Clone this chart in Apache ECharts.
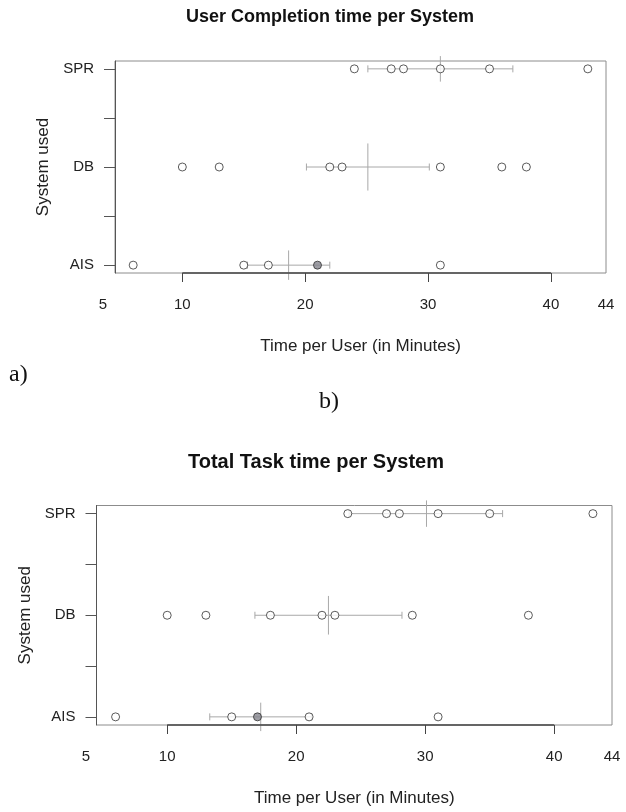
<!DOCTYPE html>
<html>
<head>
<meta charset="utf-8">
<script src="https://cdn.jsdelivr.net/npm/echarts@6/dist/echarts.min.js"></script>
<style>
  html, body { margin: 0; padding: 0; background: #fff; }
  #main { width: 626px; height: 812px; }
</style>
</head>
<body>
<div id="main"></div>
<script>
// systems on the y axis (bottom to top)
var systems = ['AIS', 'DB', 'SPR'];

// a) user completion time per system, one array per system
var userAIS = [6, 15, 17, 21, 21, 31];
var userDB = [10, 13, 22, 23, 31, 36, 38];
var userSPR = [24, 27, 28, 31, 35, 43];
var userMean = [18.65, 25.1, 31.0];
var userLow = [15.3, 20.1, 25.1];
var userHigh = [22.0, 30.1, 36.9];
var userMeanHalf = [0.15, 0.24, 0.13];

// b) total task time per system
var taskAIS = [6, 15, 17, 17, 21, 31];
var taskDB = [10, 13, 18, 22, 23, 29, 38];
var taskSPR = [24, 27, 28, 31, 35, 43];
var taskMean = [17.25, 22.5, 30.1];
var taskLow = [13.3, 16.8, 24.1];
var taskHigh = [21.2, 28.2, 36.0];
var taskMeanHalf = [0.14, 0.19, 0.13];

// axes
var xMin = 4.52, xMax = 44.48;
var xTicks = [10, 20, 30, 40];
var xEdgeLabels = ['5', '44'];
var yMin = 0.92, yMax = 3.08;
var yTicks = [1, 1.5, 2, 2.5, 3];

var sans = 'Liberation Sans, Arial, sans-serif';
var serif = 'Liberation Serif, Times New Roman, serif';

function pointData(groups) {
	var out = [];
	groups.forEach(function(vals, i) {
		var seen = {};
		vals.forEach(function(v) {
			seen[v] = (seen[v] || 0) + 1;
		});
		Object.keys(seen).forEach(function(k) {
			out.push({
				value : [ Number(k), i + 1 ],
				itemStyle : { color : seen[k] > 1 ? '#85858d' : '#fff' }
			});
		});
	});
	return out;
}

function barData(mean, low, high, half) {
	return mean.map(function(m, i) {
		return [ i + 1, m, low[i], high[i], half[i] ];
	});
}

function renderBar(params, api) {
	var y = api.value(0), m = api.value(1), lo = api.value(2), hi = api.value(3), h = api.value(4);
	var pL = api.coord([ lo, y ]), pR = api.coord([ hi, y ]);
	var pT = api.coord([ m, y + h ]), pB = api.coord([ m, y - h ]);
	var cap = 3.5;
	var st = { stroke : '#a8a8a8', lineWidth : 1 };
	return {
		type : 'group',
		children : [
			{ type : 'line', shape : { x1 : pL[0], y1 : pL[1], x2 : pR[0], y2 : pR[1] }, style : st },
			{ type : 'line', shape : { x1 : pL[0], y1 : pL[1] - cap, x2 : pL[0], y2 : pL[1] + cap }, style : st },
			{ type : 'line', shape : { x1 : pR[0], y1 : pR[1] - cap, x2 : pR[0], y2 : pR[1] + cap }, style : st },
			{ type : 'line', shape : { x1 : pT[0], y1 : pT[1], x2 : pB[0], y2 : pB[1] }, style : st }
		]
	};
}

function makeX(idx, shiftLeft) {
	return {
		type : 'value',
		gridIndex : idx,
		min : xMin,
		max : xMax,
		axisLine : { show : false },
		splitLine : { show : false },
		axisTick : {
			show : true,
			customValues : xTicks,
			length : 9,
			lineStyle : { color : '#444' }
		},
		axisLabel : {
			customValues : [ xMin ].concat(xTicks, [ xMax ]),
			margin : 24,
			fontSize : 15,
			fontFamily : sans,
			color : '#222',
			formatter : function(v) {
				if (v === xMin) return '{lo|' + xEdgeLabels[0] + '}';
				if (v === xMax) return '{hi|' + xEdgeLabels[1] + '}';
				return String(v);
			},
			rich : {
				lo : { fontSize : 15, fontFamily : sans, color : '#222', padding : [ 0, shiftLeft, 0, 0 ] },
				hi : { fontSize : 15, fontFamily : sans, color : '#222' }
			}
		},
		name : 'Time per User (in Minutes)',
		nameLocation : 'middle',
		nameGap : 65,
		nameTextStyle : { fontSize : 17, fontFamily : sans, color : '#222' }
	};
}

function makeY(idx) {
	return {
		type : 'value',
		gridIndex : idx,
		min : yMin,
		max : yMax,
		axisLine : { show : true, lineStyle : { color : '#555' } },
		splitLine : { show : false },
		axisTick : {
			show : true,
			customValues : yTicks,
			length : 11,
			lineStyle : { color : '#555' }
		},
		axisLabel : {
			customValues : [ 1, 2, 3 ],
			margin : 21,
			fontSize : 15,
			fontFamily : sans,
			color : '#222',
			padding : [ 6, 0, 0, 0 ],
			formatter : function(v) {
				return systems[Math.round(v) - 1];
			}
		},
		name : 'System used',
		nameLocation : 'middle',
		nameGap : 62,
		nameRotate : 90,
		nameTextStyle : { fontSize : 17, fontFamily : sans, color : '#222' }
	};
}

function axisSegment(idx) {
	return {
		type : 'line',
		xAxisIndex : idx,
		yAxisIndex : idx,
		data : [ [ xTicks[0], yMin ], [ xTicks[xTicks.length - 1], yMin ] ],
		symbol : 'none',
		clip : false,
		silent : true,
		lineStyle : { color : '#444', width : 1.5 },
		z : 5
	};
}

function points(idx, groups) {
	return {
		type : 'scatter',
		xAxisIndex : idx,
		yAxisIndex : idx,
		data : pointData(groups),
		symbol : 'circle',
		symbolSize : 8,
		itemStyle : { borderColor : '#333', borderWidth : 1 },
		z : 4
	};
}

function bars(idx, data) {
	return {
		type : 'custom',
		xAxisIndex : idx,
		yAxisIndex : idx,
		data : data,
		encode : { x : [ 1, 2, 3 ], y : 0 },
		renderItem : renderBar,
		silent : true,
		z : 3
	};
}

var chart = echarts.init(document.getElementById('main'));
var option = {
	backgroundColor : '#fff',
	animation : false,
	grid : [
		{ left : 115, top : 61, width : 491, height : 212, show : true, borderColor : '#8c8c8c', borderWidth : 1 },
		{ left : 96.5, top : 505.5, width : 515.5, height : 219.5, show : true, borderColor : '#8c8c8c', borderWidth : 1 }
	],
	xAxis : [ makeX(0, 24), makeX(1, 21) ],
	yAxis : [ makeY(0), makeY(1) ],
	graphic : [
		{ type : 'text', x : 330, y : 17, style : { text : 'User Completion time per System', font : 'bold 18px ' + sans, fill : '#111', textAlign : 'center', textVerticalAlign : 'middle' } },
		{ type : 'text', x : 316, y : 462, style : { text : 'Total Task time per System', font : 'bold 20px ' + sans, fill : '#111', textAlign : 'center', textVerticalAlign : 'middle' } },
		{ type : 'text', x : 9, y : 375, style : { text : 'a)', font : '24px ' + serif, fill : '#111', textAlign : 'left', textVerticalAlign : 'middle' } },
		{ type : 'text', x : 329, y : 402, style : { text : 'b)', font : '24px ' + serif, fill : '#111', textAlign : 'center', textVerticalAlign : 'middle' } }
	],
	series : [
		bars(0, barData(userMean, userLow, userHigh, userMeanHalf)),
		points(0, [ userAIS, userDB, userSPR ]),
		axisSegment(0),
		bars(1, barData(taskMean, taskLow, taskHigh, taskMeanHalf)),
		points(1, [ taskAIS, taskDB, taskSPR ]),
		axisSegment(1)
	]
};
chart.setOption(option);
</script>
</body>
</html>
